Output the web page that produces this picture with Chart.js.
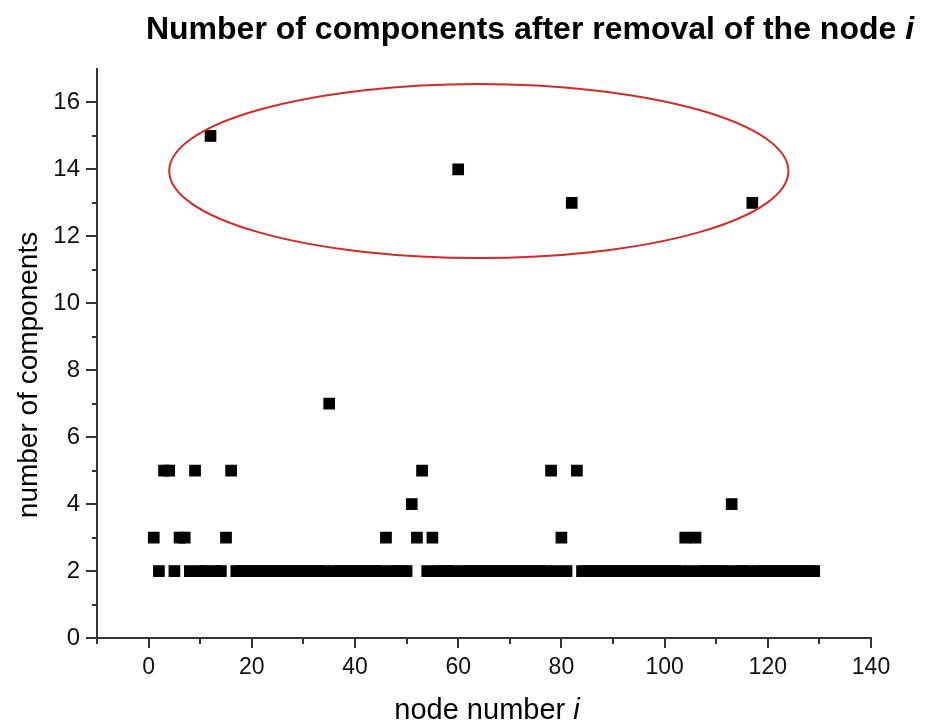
<!DOCTYPE html>
<html>
<head>
<meta charset="utf-8">
<script src="https://cdn.jsdelivr.net/npm/chart.js@4"></script>
<style>
  html, body { margin: 0; padding: 0; background: #fff; }
  #wrap { width: 927px; height: 724px; position: relative; }
</style>
</head>
<body>
<div id="wrap"><canvas id="c" width="927" height="724"></canvas></div>
<script>
// ---- data ----
const nodeNumbers = [
  1,2,3,4,5,6,7,8,9,10,11,12,13,14,15,16,17,18,19,20,
  21,22,23,24,25,26,27,28,29,30,31,32,33,34,35,36,37,38,39,40,
  41,42,43,44,45,46,47,48,49,50,51,52,53,54,55,56,57,58,59,60,
  61,62,63,64,65,66,67,68,69,70,71,72,73,74,75,76,77,78,79,80,
  81,82,83,84,85,86,87,88,89,90,91,92,93,94,95,96,97,98,99,100,
  101,102,103,104,105,106,107,108,109,110,111,112,113,114,115,116,117,118,119,120,
  121,122,123,124,125,126,127,128,129
];
const componentCounts = [
  3,2,5,5,2,3,3,2,5,2,2,15,2,2,3,5,2,2,2,2,
  2,2,2,2,2,2,2,2,2,2,2,2,2,2,7,2,2,2,2,2,
  2,2,2,2,2,3,2,2,2,2,4,3,5,2,3,2,2,2,2,14,
  2,2,2,2,2,2,2,2,2,2,2,2,2,2,2,2,2,5,2,3,
  2,13,5,2,2,2,2,2,2,2,2,2,2,2,2,2,2,2,2,2,
  2,2,2,3,2,3,2,2,2,2,2,2,4,2,2,2,13,2,2,2,
  2,2,2,2,2,2,2,2,2
];
const xTickValues = [0, 20, 40, 60, 80, 100, 120, 140];
const xMinorTickValues = [-10, 10, 30, 50, 70, 90, 110, 130];
const yTickValues = [0, 2, 4, 6, 8, 10, 12, 14, 16];
const yMinorTickValues = [1, 3, 5, 7, 9, 11, 13, 15];
const chartTitle = "Number of components after removal of the node ";
const chartTitleItalic = "i";
const xAxisTitle = "node number ";
const xAxisTitleItalic = "i";
const yAxisTitle = "number of components";
// highlighted group (ellipse), in data units
const highlightCenter = [64, 13.95];
const highlightRadii = [60, 2.6];

const FONT = "'Liberation Sans', Arial, Helvetica, sans-serif";
const AXIS_COLOR = '#333333';

const points = nodeNumbers.map((n, i) => ({ x: n, y: componentCounts[i] }));

const decorPlugin = {
  id: 'decor',
  afterDatasetsDraw(chart) {
    const ctx = chart.ctx;
    const xs = chart.scales.x, ys = chart.scales.y;
    ctx.save();
    const cx = xs.getPixelForValue(highlightCenter[0]);
    const cy = ys.getPixelForValue(highlightCenter[1]);
    const rx = Math.abs(xs.getPixelForValue(highlightCenter[0] + highlightRadii[0]) - cx);
    const ry = Math.abs(ys.getPixelForValue(highlightCenter[1] + highlightRadii[1]) - cy);
    ctx.beginPath();
    ctx.ellipse(cx, cy, rx, ry, 0, 0, Math.PI * 2);
    ctx.strokeStyle = '#d42a2a';
    ctx.lineWidth = 2;
    ctx.stroke();
    ctx.restore();
  },
  afterDraw(chart) {
    const ctx = chart.ctx;
    const xs = chart.scales.x, ys = chart.scales.y;
    const area = chart.chartArea;
    ctx.save();
    ctx.strokeStyle = AXIS_COLOR;
    ctx.lineWidth = 2;
    const drawX = (vals, len) => vals.forEach(v => {
      const px = Math.round(xs.getPixelForValue(v));
      ctx.beginPath(); ctx.moveTo(px, area.bottom); ctx.lineTo(px, area.bottom + len); ctx.stroke();
    });
    drawX(xTickValues, 10);
    drawX(xMinorTickValues, 6);
    const drawY = (vals, len) => vals.forEach(v => {
      const py = Math.round(ys.getPixelForValue(v));
      ctx.beginPath(); ctx.moveTo(area.left, py); ctx.lineTo(area.left - len, py); ctx.stroke();
    });
    drawY(yTickValues, 11);
    drawY(yMinorTickValues, 5);

    // title
    ctx.fillStyle = '#000';
    ctx.textBaseline = 'alphabetic';
    ctx.textAlign = 'left';
    ctx.font = "bold 32px " + FONT;
    const w1 = ctx.measureText(chartTitle).width;
    ctx.font = "italic bold 32px " + FONT;
    const w2 = ctx.measureText(chartTitleItalic).width;
    let sx = 530 - (w1 + w2) / 2;
    ctx.font = "bold 32px " + FONT;
    ctx.fillText(chartTitle, sx, 39);
    ctx.font = "italic bold 32px " + FONT;
    ctx.fillText(chartTitleItalic, sx + w1, 39);

    // x axis title
    ctx.font = "29px " + FONT;
    const a1 = ctx.measureText(xAxisTitle).width;
    ctx.font = "italic 29px " + FONT;
    const a2 = ctx.measureText(xAxisTitleItalic).width;
    sx = 487 - (a1 + a2) / 2;
    ctx.font = "29px " + FONT;
    ctx.fillText(xAxisTitle, sx, 719);
    ctx.font = "italic 29px " + FONT;
    ctx.fillText(xAxisTitleItalic, sx + a1, 719);

    // y axis title
    ctx.translate(37, 375);
    ctx.rotate(-Math.PI / 2);
    ctx.font = "28px " + FONT;
    ctx.textAlign = 'center';
    ctx.fillText(yAxisTitle, 0, 0);
    ctx.restore();
  }
};

new Chart(document.getElementById('c'), {
  type: 'scatter',
  data: {
    datasets: [{
      data: points,
      pointStyle: 'rect',
      pointRadius: 7.4,
      pointHoverRadius: 7.4,
      backgroundColor: '#000',
      borderColor: '#000',
      borderWidth: 1.2
    }]
  },
  options: {
    responsive: false,
    animation: false,
    events: [],
    layout: { padding: { top: 69, right: 56, left: 0, bottom: 0 } },
    plugins: { legend: { display: false }, tooltip: { enabled: false }, title: { display: false } },
    scales: {
      x: {
        type: 'linear', min: -10, max: 140,
        afterBuildTicks: s => { s.ticks = xTickValues.map(v => ({ value: v })); },
        afterFit: s => { s.height = 724 - 638; },
        grid: { display: false, drawTicks: false },
        border: { display: true, color: AXIS_COLOR, width: 2 },
        ticks: { color: '#111', font: { family: FONT, size: 23 }, padding: 16, maxRotation: 0, autoSkip: false }
      },
      y: {
        type: 'linear', min: 0, max: 17,
        afterBuildTicks: s => { s.ticks = yTickValues.map(v => ({ value: v })); },
        afterFit: s => { s.width = 97; },
        grid: { display: false, drawTicks: false },
        border: { display: true, color: AXIS_COLOR, width: 2 },
        ticks: { color: '#111', font: { family: FONT, size: 24 }, padding: 17, autoSkip: false }
      }
    }
  },
  plugins: [decorPlugin]
});
</script>
</body>
</html>
